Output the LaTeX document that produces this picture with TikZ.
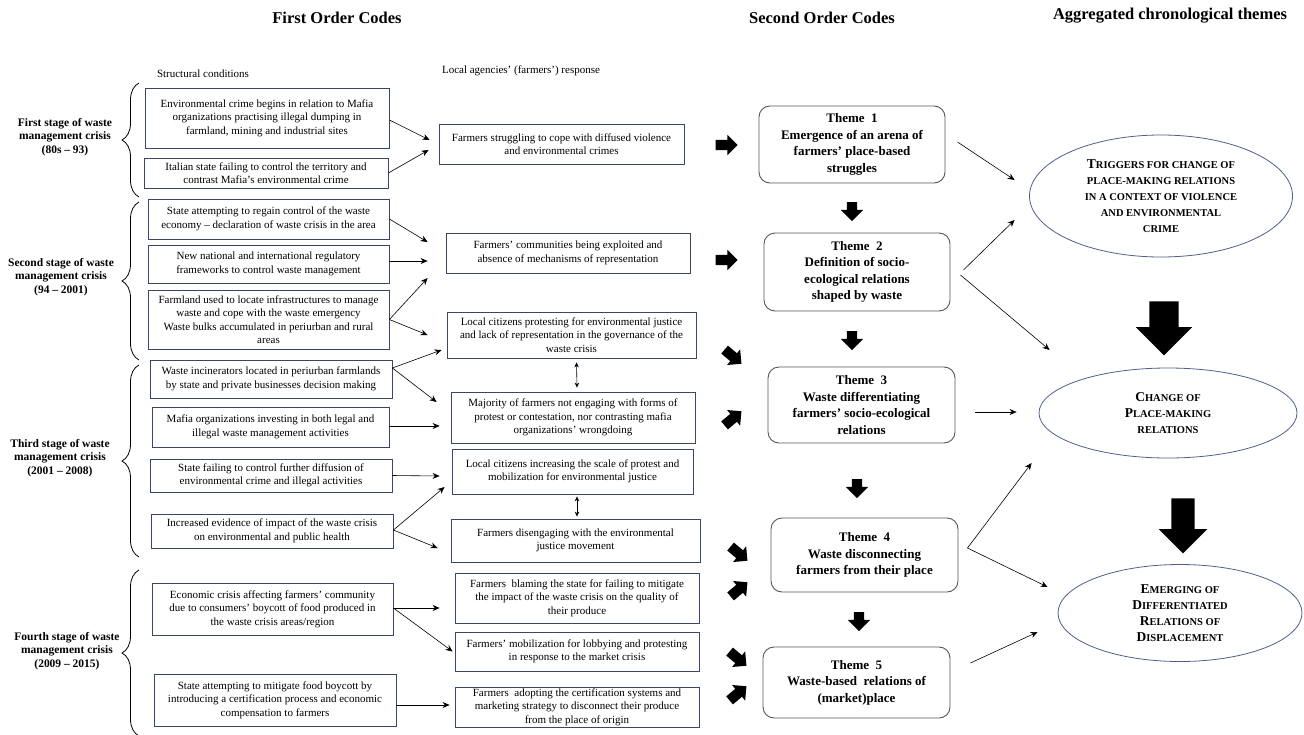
\documentclass[tikz,border=0pt]{standalone}
\usepackage{fontspec}
\setmainfont{Liberation Serif}
\usetikzlibrary{positioning,shapes.geometric,shapes.arrows,arrows.meta,decorations.pathreplacing}
\definecolor{boxline}{RGB}{58,70,105}
\definecolor{themeline}{RGB}{85,85,85}
\definecolor{ovalline}{RGB}{80,95,140}
\newcommand{\sck}[1]{{\fontsize{10.5}{10}\selectfont #1}}
\tikzset{
  codebox/.style={draw=boxline, line width=0.8pt, align=center, inner sep=1pt, font=\fontsize{11}{13.5}\selectfont},
  themebox/.style={draw=themeline, line width=0.9pt, rounded corners=11pt, align=center, font=\fontsize{13}{16.5}\selectfont\bfseries},
  oval/.style={ellipse, draw=ovalline, line width=0.8pt, align=center, inner sep=0pt, font=\fontsize{13.5}{16}\selectfont\bfseries},
  stagelabel/.style={align=center, font=\fontsize{11.5}{13.5}\selectfont\bfseries},
  header/.style={font=\fontsize{16.5}{18}\selectfont\bfseries},
  sublabel/.style={font=\fontsize{11}{12}\selectfont},
  fatarrow/.style={single arrow, fill=black, inner xsep=0pt, inner ysep=5pt, minimum height=22pt, single arrow head extend=5pt},
  downarrow/.style={single arrow, fill=black, inner xsep=0pt, inner ysep=5pt, rotate=-90, minimum height=19pt, single arrow head extend=6pt},
  bigarrow/.style={single arrow, fill=black, inner xsep=0pt, rotate=-90},
  thinarrow/.style={-{Stealth[length=7pt,width=6pt]}, line width=0.6pt},
  bothways/.style={{Stealth[length=5pt,width=4.5pt]}-{Stealth[length=5pt,width=4.5pt]}, line width=0.6pt},
  stagebrace/.style={decorate, decoration={brace, amplitude=17pt}, line width=0.8pt}
}

\begin{document}
\begin{tikzpicture}[x=1pt,y=-1pt]
\useasboundingbox (0,0) rectangle (1304,734);

\node[header] (h1) at (337,18) {First Order Codes};
\node[header] (h2) at (822,18) {Second Order Codes};
\node[header] (h3) at (1170,16) {Aggregated chronological themes};

\node[sublabel] (sc) at (203,74) {Structural conditions};
\node[sublabel] (lar) at (521,71) {Local agencies' (farmers') response};

% stages of the crisis
\node[stagelabel] (s1) at (65,137) {First stage of waste\\management crisis\\(80s -- 93)};
\node[stagelabel] (s2) at (61,277) {Second stage of waste\\management crisis\\(94 -- 2001)};
\node[stagelabel] (s3) at (60,458) {Third stage of waste\\management crisis\\(2001 -- 2008)};
\node[stagelabel] (s4) at (67,651) {Fourth stage of waste\\management crisis\\(2009 -- 2015)};

\draw[stagebrace] (139,197) -- (139,83);
\draw[stagebrace] (139,360) -- (139,202);
\draw[stagebrace] (139,557) -- (139,365);
\draw[stagebrace] (139,736) -- (139,570);

% structural conditions
\node[codebox, minimum width=244pt, minimum height=60pt] (c1) at (267,118) {Environmental crime begins in relation to Mafia\\organizations practising illegal dumping in\\farmland, mining and industrial sites};
\node[codebox, minimum width=244pt, minimum height=30pt] (c2) at (266,173) {Italian state failing to control the territory and\\contrast Mafia's environmental crime};
\node[codebox, minimum width=241pt, minimum height=40pt] (c3) at (268.5,219) {State attempting to regain control of the waste\\economy -- declaration of waste crisis in the area};
\node[codebox, minimum width=241pt, minimum height=38pt] (c4) at (268.5,264) {New national and international regulatory\\frameworks to control waste management};
\node[codebox, minimum width=241pt, minimum height=59pt] (c5) at (268.5,319.5) {Farmland used to locate infrastructures to manage\\waste and cope with the waste emergency\\Waste bulks accumulated in periurban and rural\\areas};
\node[codebox, minimum width=242pt, minimum height=38pt] (c6) at (271,379) {Waste incinerators located in periurban farmlands\\by state and private businesses decision making};
\node[codebox, minimum width=237pt, minimum height=40pt] (c7) at (270.5,427) {Mafia organizations investing in both legal and\\illegal waste management activities};
\node[codebox, minimum width=242pt, minimum height=33pt] (c8) at (271,475.5) {State failing to control further diffusion of\\environmental crime and illegal activities};
\node[codebox, minimum width=242pt, minimum height=34pt] (c9) at (272,531) {Increased evidence of impact of the waste crisis\\on environmental and public health};
\node[codebox, minimum width=241pt, minimum height=52pt] (c10) at (272.5,609) {Economic crisis affecting farmers' community\\due to consumers' boycott of food produced in\\the waste crisis areas/region};
\node[codebox, minimum width=242pt, minimum height=52pt] (c11) at (275,700) {State attempting to mitigate food boycott by\\introducing a certification process and economic\\compensation to farmers};

% farmers' responses
\node[codebox, minimum width=245pt, minimum height=40pt] (r1) at (561.5,144) {Farmers struggling to cope with diffused violence\\and environmental crimes};
\node[codebox, minimum width=244pt, minimum height=40pt] (r2) at (568,253) {Farmers' communities being exploited and\\absence of mechanisms of representation};
\node[codebox, minimum width=249pt, minimum height=46pt] (r3) at (571.5,335) {Local citizens protesting for environmental justice\\and lack of representation in the governance of the\\waste crisis};
\node[codebox, minimum width=244pt, minimum height=51pt] (r4) at (573,417.5) {Majority of farmers not engaging with forms of\\protest or contestation, nor contrasting mafia\\organizations' wrongdoing};
\node[codebox, minimum width=241pt, minimum height=45pt] (r5) at (572.5,471.5) {Local citizens increasing the scale of protest and\\mobilization for environmental justice};
\node[codebox, minimum width=249pt, minimum height=43pt] (r6) at (575.5,540.5) {Farmers disengaging with the environmental\\justice movement};
\node[codebox, minimum width=244pt, minimum height=50pt] (r7) at (577,598) {Farmers\ \ blaming the state for failing to mitigate\\the impact of the waste crisis on the quality of\\their produce};
\node[codebox, minimum width=244pt, minimum height=39pt] (r8) at (577,651.5) {Farmers' mobilization for lobbying and protesting\\in response to the market crisis};
\node[codebox, minimum width=244pt, minimum height=40pt] (r9) at (577,707) {Farmers\ \ adopting the certification systems and\\marketing strategy to disconnect their produce\\from the place of origin};

% themes
\node[themebox, minimum width=186pt, minimum height=77pt] (t1) at (852,144.5) {Theme\ \ 1\\Emergence\ of\ an\ arena\ of\\farmers'\ place-based\\struggles};
\node[themebox, minimum width=186pt, minimum height=78pt] (t2) at (857,272) {Theme\ \ 2\\Definition\ of\ socio-\\ecological\ relations\\shaped\ by\ waste};
\node[themebox, minimum width=187pt, minimum height=76pt] (t3) at (861.5,405) {Theme\ \ 3\\Waste differentiating\\farmers' socio-ecological\\relations};
\node[themebox, minimum width=187pt, minimum height=74pt] (t4) at (864.5,555) {Theme\ \ 4\\Waste\ disconnecting\\farmers\ from\ their\ place};
\node[themebox, minimum width=187pt, minimum height=71pt] (t5) at (856.5,682.5) {Theme\ \ 5\\Waste-based\ \ relations\ of\\(market)place};

% aggregated themes
\node[oval, minimum width=263pt, minimum height=122pt] (e1) at (1161,196) {T\sck{RIGGERS FOR CHANGE OF}\\\sck{PLACE-MAKING RELATIONS}\\\sck{IN A CONTEXT OF VIOLENCE}\\\sck{AND ENVIRONMENTAL}\\\sck{CRIME}};
\node[oval, minimum width=258pt, minimum height=90pt] (e2) at (1168,413) {C\sck{HANGE OF}\\P\sck{LACE-MAKING}\\\sck{RELATIONS}};
\node[oval, minimum width=244pt, minimum height=97pt] (e3) at (1180,613) {E\sck{MERGING OF}\\D\sck{IFFERENTIATED}\\R\sck{ELATIONS OF}\\D\sck{ISPLACEMENT}};

% block arrows
\node[fatarrow] (f1) at (724,145) {};
\node[fatarrow] (f2) at (724,260) {};
\node[fatarrow, rotate=-40] (f3) at (731,355) {};
\node[fatarrow, rotate=40] (f4) at (731,420) {};
\node[fatarrow, rotate=-40] (f5) at (737,552) {};
\node[fatarrow, rotate=40] (f6) at (737,591) {};
\node[fatarrow, rotate=-40] (f7) at (736,657) {};
\node[fatarrow, rotate=40] (f8) at (736,695) {};

\node[downarrow] (d1) at (852,209) {};
\node[downarrow] (d2) at (852,338) {};
\node[downarrow] (d3) at (857,486) {};
\node[downarrow] (d4) at (859,619) {};

\node[bigarrow, minimum height=54pt, inner ysep=14.5pt, single arrow head extend=13.5pt] (g1) at (1164,321) {};
\node[bigarrow, minimum height=55pt, inner ysep=11.5pt, single arrow head extend=12.5pt] (g2) at (1183,520) {};

% conditions to responses
\draw[thinarrow] ([yshift=-2pt]c1.east) -- ([xshift=-9pt,yshift=4pt]r1.west);
\draw[thinarrow] (c2.east) -- ([xshift=-10pt,yshift=-6pt]r1.west);
\draw[thinarrow] (c3.east) -- ([xshift=-18pt,yshift=11pt]r2.west);
\draw[thinarrow] ([yshift=3pt]c4.east) -- ([xshift=-18pt,yshift=-8pt]r2.west);
\draw[thinarrow] (c5.east) -- ([xshift=-18pt,yshift=-25pt]r2.west);
\draw[thinarrow] (c5.east) -- ([xshift=-19pt]r3.west);
\draw[thinarrow] ([yshift=11pt]c6.east) -- ([xshift=-5pt,yshift=-15pt]r3.west);
\draw[thinarrow] ([yshift=11pt]c6.east) -- ([xshift=-14pt,yshift=15.5pt]r4.west);
\draw[thinarrow] ([yshift=1pt]c7.east) -- ([xshift=-11pt,yshift=-8.5pt]r4.west);
\draw[thinarrow] (c8.east) -- ([xshift=-12pt,yshift=-4.5pt]r5.west);
\draw[thinarrow] ([yshift=1pt]c9.east) -- ([xshift=-7pt,yshift=-15.5pt]r5.west);
\draw[thinarrow] ([yshift=1pt]c9.east) -- ([xshift=-13pt,yshift=-7.5pt]r6.west);
\draw[thinarrow] ([yshift=1pt]c10.east) -- ([xshift=-15pt,yshift=-10pt]r7.west);
\draw[thinarrow] ([yshift=1pt]c10.east) -- ([xshift=-2pt]r8.west);
\draw[thinarrow] ([yshift=-5pt]c11.east) -- ([xshift=-5pt,yshift=2pt]r9.west);

\draw[bothways] ([xshift=5pt,yshift=-4pt]r3.south) -- ([xshift=4pt,yshift=4pt]r4.north);
\draw[bothways] ([xshift=4.5pt,yshift=-2pt]r5.south) -- ([xshift=1.5pt,yshift=2pt]r6.north);

% themes to aggregated themes
\draw[thinarrow] ([xshift=12pt,yshift=2.5pt]t1.east) -- ([xshift=-14.5pt,yshift=16pt]e1.west);
\draw[thinarrow] ([xshift=13pt,yshift=2pt]t2.east) -- ([xshift=-14.5pt,yshift=-24pt]e1.west);
\draw[thinarrow] ([xshift=10pt,yshift=-3pt]t2.east) -- ([xshift=11pt,yshift=63pt]e2.west);
\draw[thinarrow] ([xshift=20pt,yshift=-7pt]t3.east) -- ([xshift=-22pt,yshift=1pt]e2.west);
\draw[thinarrow] ([xshift=9pt,yshift=7pt]t4.east) -- ([xshift=-7pt,yshift=-50pt]e2.west);
\draw[thinarrow] ([xshift=9pt,yshift=7pt]t4.east) -- ([xshift=-10pt,yshift=26pt]e3.west);
\draw[thinarrow] ([xshift=20pt,yshift=19.5pt]t5.east) -- ([xshift=-20pt,yshift=-19pt]e3.west);

\end{tikzpicture}
\end{document}
